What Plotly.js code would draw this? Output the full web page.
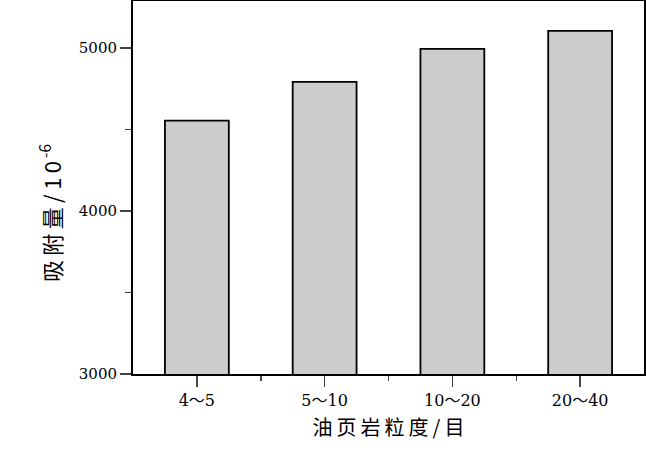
<!DOCTYPE html>
<html>
<head>
<meta charset="utf-8">
<script src="https://cdn.plot.ly/plotly-3.0.1.min.js"></script>
<style>
  body { margin: 0; background: #fff; }
  #chart { width: 646px; height: 452px; }
</style>
</head>
<body>
<div id="chart"></div>
<script>
// Oil shale particle size (mesh) vs adsorption amount
var sizeClasses = ["4～5", "5～10", "10～20", "20～40"];
var adsorption = [4556, 4793, 4996, 5106];
var yTickVals = [3000, 4000, 5000];

var font = "'DejaVu Serif', 'Noto Sans CJK SC', serif";
var cjk = "'Noto Sans CJK SC', 'DejaVu Serif', serif";
var positions = sizeClasses.map((c, i) => i);
var sp = "\u2009";

var trace = {
    x: positions,
    y: adsorption,
    type: "bar",
    width: 0.5,
    marker: {color: "#cccccc", line: {color: "#000", width: 1.8}},
    hoverinfo: "none"
};

var layout = {
    width: 646,
    height: 452,
    margin: {l: 133, r: 2, t: 1, b: 78},
    paper_bgcolor: "#fff",
    plot_bgcolor: "#fff",
    showlegend: false,
    font: {family: font, color: "#000", size: 15},
    xaxis: {
        type: "linear",
        range: [-0.5, 3.5],
        tickvals: positions,
        ticktext: sizeClasses,
        ticks: "outside",
        ticklen: 11,
        tickwidth: 1.5,
        showgrid: false,
        zeroline: false,
        showline: true,
        mirror: true,
        linewidth: 2,
        linecolor: "#000",
        tickfont: {size: 16},
        minor: {tickvals: [0.5, 1.5, 2.5], ticks: "outside", ticklen: 5, tickwidth: 1.5, showgrid: false},
        title: {text: ["油", "页", "岩", "粒", "度", "/", "目"].join(sp), font: {size: 20, family: cjk}, standoff: 12}
    },
    yaxis: {
        range: [3000, 5290],
        tickvals: yTickVals,
        ticks: "outside",
        ticklen: 11,
        tickwidth: 1.5,
        showgrid: false,
        zeroline: false,
        showline: true,
        mirror: true,
        linewidth: 2,
        linecolor: "#000",
        tickfont: {size: 15},
        minor: {dtick: 500, ticks: "outside", ticklen: 6, tickwidth: 1.5, showgrid: false}
    },
    annotations: [{
        text: ["吸", "附", "量", "/", "1", "0"].join(sp) + "<sup>" + sp + "-6</sup>",
        xref: "paper", yref: "paper",
        x: -0.162, y: 0.432,
        xanchor: "center", yanchor: "middle",
        textangle: -90,
        showarrow: false,
        font: {size: 22, family: cjk}
    }]
};

Plotly.newPlot("chart", [trace], layout, {staticPlot: true});
</script>
</body>
</html>
